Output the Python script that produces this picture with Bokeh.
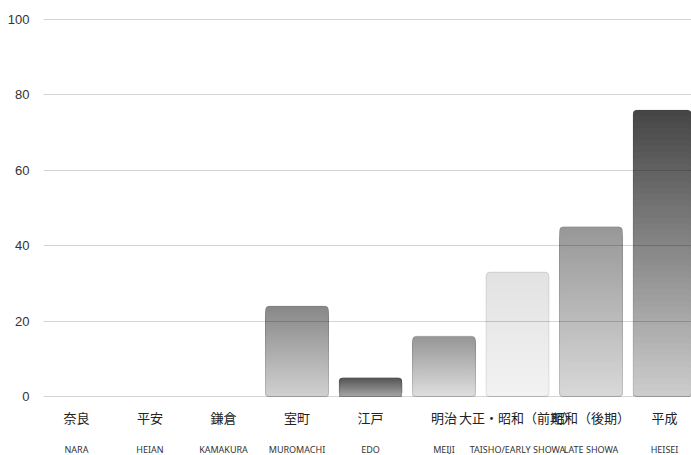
from bokeh.plotting import figure
from bokeh.models import ColumnDataSource, FixedTicker, LinearAxis, Range1d
from bokeh.embed import file_html
from bokeh.resources import INLINE

# ---- data ----
periods_ja = ["奈良", "平安", "鎌倉", "室町", "江戸", "明治", "大正・昭和（前期）", "昭和（後期）", "平成"]
periods_en = ["NARA", "HEIAN", "KAMAKURA", "MUROMACHI", "EDO", "MEIJI", "TAISHO/EARLY SHOWA", "LATE SHOWA", "HEISEI"]
values = [0, 0, 0, 24, 5, 16, 33, 45, 76]
y_ticks = [0, 20, 40, 60, 80, 100]

# ---- style: gradient top/bottom greys per bar ----
top_grey = [200, 200, 200, 136, 84, 150, 226, 152, 70]
bot_grey = [220, 220, 220, 208, 165, 222, 242, 216, 204]

idx = list(range(len(values)))
BAR_W = 0.857
N = 48

xs, tops, cols = [], [], []
for i, v in enumerate(values):
    if v <= 0:
        continue
    for k in range(N):
        t = k / (N - 1)
        g = int(round(top_grey[i] + (bot_grey[i] - top_grey[i]) * t))
        xs.append(i)
        tops.append(v * (1 - k / N))
        cols.append("#%02x%02x%02x" % (g, g, g))

src = ColumnDataSource(dict(x=xs, top=tops, color=cols))
outline = ColumnDataSource(dict(x=[i for i in idx if values[i] > 0],
                                top=[v for v in values if v > 0]))

p = figure(frame_width=648, frame_height=390, output_backend="svg", toolbar_location=None,
           x_range=Range1d(-0.449, 8.367), y_range=Range1d(-1.06, 102.39),
           min_border_left=43, min_border_right=0, min_border_top=10, min_border_bottom=0)
p.outline_line_color = None
p.background_fill_color = "white"
p.border_fill_color = "white"

p.vbar(x="x", top="top", bottom=0, width=BAR_W, fill_color="color", line_color=None,
       border_radius=4, source=src)
p.vbar(x="x", top="top", bottom=0, width=BAR_W, fill_color=None, line_color="black",
       line_alpha=0.1, line_width=1, border_radius=4, source=outline)

# grid
p.xgrid.visible = False
p.ygrid.ticker = FixedTicker(ticks=y_ticks)
p.ygrid.grid_line_color = "black"
p.ygrid.grid_line_alpha = 0.17
p.ygrid.level = "overlay"

# y axis
ya = p.yaxis[0]
ya.ticker = FixedTicker(ticks=y_ticks)
ya.axis_line_color = None
ya.major_tick_line_color = None
ya.minor_tick_line_color = None
ya.major_tick_out = 0
ya.major_tick_in = 0
ya.major_label_standoff = 14
ya.major_label_text_font = "Liberation Sans"
ya.major_label_text_font_size = "13px"
ya.major_label_text_color = "#333333"

# x axis (Japanese)
xa = p.xaxis[0]
xa.ticker = FixedTicker(ticks=idx)
xa.major_label_overrides = {i: s for i, s in zip(idx, periods_ja)}
xa.axis_line_color = None
xa.major_tick_line_color = None
xa.minor_tick_line_color = None
xa.major_tick_out = 0
xa.major_tick_in = 0
xa.major_label_standoff = 7
xa.major_label_text_font = "Noto Sans CJK JP"
xa.major_label_text_font_size = "13px"
xa.major_label_text_color = "#222222"

# second x axis (romaji)
xa2 = LinearAxis(ticker=FixedTicker(ticks=idx),
                 major_label_overrides={i: s for i, s in zip(idx, periods_en)})
xa2.axis_line_color = None
xa2.major_tick_line_color = None
xa2.minor_tick_line_color = None
xa2.major_tick_out = 0
xa2.major_tick_in = 0
xa2.major_label_standoff = 13
xa2.major_label_text_font = "Noto Sans"
xa2.major_label_text_font_size = "9px"
xa2.major_label_text_color = "#333333"
p.add_layout(xa2, "below")

open("out.html", "w").write(file_html(p, INLINE))
